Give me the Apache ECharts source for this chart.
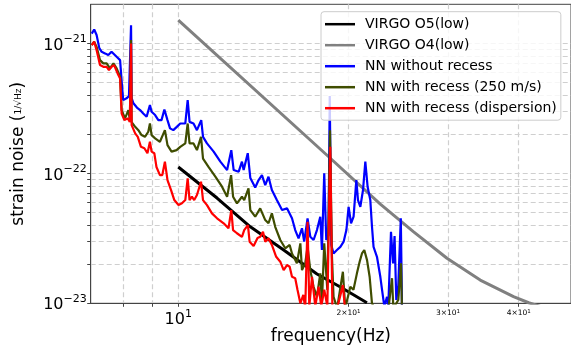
<!DOCTYPE html>
<html>
<head>
<meta charset="utf-8">
<script src="https://cdn.jsdelivr.net/npm/echarts@6/dist/echarts.min.js"></script>
<style>
html,body{margin:0;padding:0;background:#fff;}
#chart{width:571px;height:347px;}
</style>
</head>
<body>
<div id="chart"></div>
<script>
// ---- data (frequency in Hz, strain noise in 1/sqrt(Hz)) ----
var seriesNames = ['VIRGO O5(low)', 'VIRGO O4(low)', 'NN without recess', 'NN with recess (250 m/s)', 'NN with recess (dispersion)'];

var o5Freq = [10, 11.71, 13.41, 15.36, 17.59, 19.35, 21.56];
var o5Val  = [1.12e-22, 6.46e-23, 3.88e-23, 2.57e-23, 1.68e-23, 1.335e-23, 1.01e-23];

var o4Freq = [10, 18.45, 22.77, 26.08, 29.87, 34.2, 39.17, 41.66, 44.6];
var o4Val  = [1.51e-21, 1.342e-22, 5.80e-23, 3.55e-23, 2.22e-23, 1.51e-23, 1.124e-23, 1.01e-23, 0.92e-23];

var blueFreq = [7.03,7.10,7.17,7.25,7.32,7.42,7.52,7.62,7.68,7.78,7.89,7.95,7.99,8.10,8.18,8.23,8.25,8.27,8.33,8.45,8.56,8.67,8.79,8.91,8.97,9.10,9.22,9.34,9.45,9.57,9.67,9.80,9.94,10.08,10.29,10.39,10.47,10.64,10.79,10.98,11.06,11.24,11.55,11.87,12.20,12.41,12.53,12.79,12.96,13.05,13.27,13.41,13.68,13.87,14.06,14.25,14.44,14.64,14.94,15.26,15.57,15.89,16.10,16.32,16.55,16.70,16.93,17.12,17.35,17.59,17.83,17.95,18.12,18.27,18.44,18.53,18.65,18.82,19.08,19.35,19.61,19.83,20.01,20.21,20.42,20.65,20.79,20.99,21.22,21.42,21.62,21.86,22.01,22.15,22.46,22.77,22.93,23.14,23.40,23.52,23.78,23.98,24.13,24.30,24.50,24.75,24.87];
var blueVal  = [1.19e-21,1.28e-21,1.16e-21,9.20e-22,8.62e-22,8.38e-22,8.13e-22,8.62e-22,8.88e-22,7.89e-22,7.44e-22,4.78e-22,3.66e-22,3.78e-22,3.93e-22,3.86e-22,1.38e-21,3.80e-22,3.46e-22,3.21e-22,3.07e-22,2.89e-22,2.73e-22,3.35e-22,2.98e-22,2.81e-22,2.57e-22,2.57e-22,3.10e-22,2.57e-22,2.22e-22,2.15e-22,2.28e-22,2.42e-22,2.42e-22,3.66e-22,2.49e-22,2.42e-22,2.15e-22,2.57e-22,1.91e-22,1.70e-22,1.47e-22,1.23e-22,1.06e-22,1.51e-22,1.06e-22,1.03e-22,1.23e-22,1.06e-22,1.43e-22,9.20e-23,7.78e-23,8.88e-23,9.70e-23,8.13e-23,9.42e-23,7.44e-23,6.23e-23,5.22e-23,5.38e-23,4.51e-23,3.66e-23,3.16e-23,3.78e-23,2.98e-23,4.51e-23,3.25e-23,3.07e-23,3.66e-23,4.64e-23,2.57e-23,1.00e-22,3.07e-23,3.35e-23,3.93e-22,2.81e-23,2.42e-23,2.57e-23,2.72e-23,2.98e-23,3.66e-23,5.53e-23,4.13e-23,4.64e-23,8.88e-23,6.23e-23,5.53e-23,7.44e-23,1.23e-22,7.89e-23,6.23e-23,3.88e-23,2.72e-23,2.28e-23,1.60e-23,1.27e-23,0.95e-23,1.12e-23,0.95e-23,3.55e-23,2.03e-23,3.29e-23,1.06e-23,1.38e-23,4.51e-23,0.95e-23];

var oliveFreq = [7.03,7.10,7.17,7.27,7.37,7.47,7.57,7.68,7.78,7.89,7.94,8.05,8.16,8.21,8.25,8.27,8.39,8.50,8.61,8.73,8.85,8.91,8.97,9.10,9.28,9.47,9.57,9.73,9.93,10.08,10.29,10.39,10.47,10.64,10.79,10.97,11.06,11.31,11.63,11.95,12.20,12.40,12.50,12.70,12.96,13.08,13.31,13.41,13.68,13.96,14.25,14.44,14.64,14.84,15.15,15.46,15.74,15.89,16.21,16.44,16.55,16.77,16.93,17.12,17.35,17.59,17.83,17.95,18.12,18.35,18.55,18.70,18.82,19.10,19.55,19.74,20.15,20.41,20.70,20.93,21.13,21.33,21.57,21.80,22.01,22.31,23.52,23.88,24.01,24.50,24.77,24.87];
var oliveVal  = [9.70e-22,1.03e-21,9.41e-22,7.44e-22,7.02e-22,7.02e-22,6.42e-22,7.02e-22,6.42e-22,5.54e-22,3.07e-22,2.65e-22,3.07e-22,2.57e-22,1.06e-21,2.48e-22,2.28e-22,2.15e-22,1.97e-22,1.91e-22,2.09e-22,2.42e-22,1.97e-22,1.86e-22,1.75e-22,2.15e-22,1.65e-22,1.47e-22,1.51e-22,1.60e-22,1.70e-22,2.42e-22,1.70e-22,1.70e-22,1.51e-22,1.91e-22,1.30e-22,1.12e-22,9.42e-23,7.89e-23,6.61e-23,9.70e-23,6.61e-23,5.88e-23,6.61e-23,6.23e-23,7.67e-23,5.22e-23,4.64e-23,5.38e-23,4.37e-23,4.13e-23,4.92e-23,3.88e-23,3.07e-23,2.65e-23,2.81e-23,2.42e-23,2.03e-23,2.89e-23,1.80e-23,2.03e-23,2.73e-23,1.80e-23,1.34e-23,1.12e-23,1.70e-23,1.00e-23,2.89e-23,1.27e-23,2.15e-22,2.28e-23,1.12e-23,0.92e-23,1.75e-23,0.92e-23,1.34e-23,1.27e-23,1.70e-23,2.09e-23,2.42e-23,2.57e-23,2.15e-23,1.60e-23,1.00e-23,0.89e-23,0.89e-23,1.56e-23,0.92e-23,1.06e-23,2.03e-23,0.89e-23];

var redFreq = [7.03,7.10,7.17,7.27,7.37,7.47,7.54,7.62,7.70,7.81,7.89,7.94,8.03,8.14,8.21,8.25,8.27,8.39,8.48,8.59,8.71,8.82,8.91,8.97,9.07,9.15,9.28,9.37,9.47,9.57,9.71,9.84,10.01,10.15,10.29,10.39,10.47,10.57,10.67,10.79,10.97,11.06,11.24,11.47,11.71,12.03,12.27,12.41,12.50,12.70,12.96,13.08,13.28,13.37,13.59,13.81,13.96,14.12,14.25,14.44,14.64,14.90,15.15,15.36,15.57,15.74,15.89,16.10,16.25,16.44,16.64,16.77,16.93,17.05,17.24,17.47,17.71,17.90,18.12,18.35,18.57,18.73,19.03,19.55,19.74,22.77,24.87];
var redVal  = [9.70e-22,1.03e-21,8.88e-22,6.81e-22,6.61e-22,6.61e-22,6.23e-22,6.61e-22,6.81e-22,5.88e-22,5.38e-22,2.89e-22,2.57e-22,2.65e-22,2.49e-22,1.00e-21,2.35e-22,2.03e-22,1.91e-22,1.60e-22,1.56e-22,1.43e-22,1.75e-22,1.47e-22,1.43e-22,1.12e-22,9.70e-23,9.70e-23,1.23e-22,8.88e-23,7.44e-23,6.23e-23,5.70e-23,5.88e-23,6.23e-23,9.15e-23,6.23e-23,6.61e-23,6.23e-23,6.81e-23,8.62e-23,6.23e-23,5.70e-23,4.92e-23,4.51e-23,4.13e-23,3.78e-23,5.22e-23,3.66e-23,3.46e-23,3.25e-23,3.66e-23,4.00e-23,2.98e-23,2.76e-23,3.18e-23,3.25e-23,3.55e-23,2.98e-23,3.16e-23,2.81e-23,2.28e-23,2.09e-23,1.80e-23,1.97e-23,1.91e-23,1.60e-23,1.56e-23,1.27e-23,1.00e-23,1.16e-23,0.92e-23,4.24e-23,0.95e-23,1.60e-23,0.95e-23,1.34e-23,0.95e-23,1.27e-23,0.95e-23,1.60e-22,0.95e-23,0.86e-23,1.38e-23,0.86e-23,0.74e-23,0.74e-23];

// axis ticks
var xMin = 7, xMax = 49.5;
var yMin = 1e-23, yMax = 2e-21;
var xGridValues = [8, 9, 10, 20, 30, 40];
var xLabelValues = [10, 20, 30, 40];
var xLabelMantissa = ['', '2', '3', '4'];
var xLabelExp = ['1', '1', '1', '1'];
var yGridValues = [2e-23,3e-23,4e-23,5e-23,6e-23,7e-23,8e-23,9e-23,1e-22,2e-22,3e-22,4e-22,5e-22,6e-22,7e-22,8e-22,9e-22,1e-21];
var yLabelValues = [1e-23, 1e-22, 1e-21];
var yLabelExp = ['\u221223', '\u221222', '\u221221'];

// ECharts rounds numbers to at most 20 decimals, so the y axis works in units of 1e-22
var Y_UNIT = 1e-22;
function toUnit(v) { return Number((v / Y_UNIT).toPrecision(12)); }
function zip(a, b) { return a.map(function (v, i) { return [v, toUnit(b[i])]; }); }
function findIdx(arr, v) {
  for (var i = 0; i < arr.length; i++) { if (Math.abs(arr[i] - v) / arr[i] < 1e-3) return i; }
  return -1;
}
var yLabelUnits = yLabelValues.map(toUnit);

var FONT = 'DejaVu Sans';
var gridLine = { show: true, lineStyle: { color: '#cfcfcf', width: 1.2, type: [5, 3] } };

var chart = echarts.init(document.getElementById('chart'), null, { renderer: 'canvas' });
chart.setOption({
  animation: false,
  backgroundColor: '#ffffff',
  textStyle: { fontFamily: FONT },
  grid: { left: 90.7, right: 0, top: 4.3, bottom: 43.7, show: true, borderColor: '#444', borderWidth: 1, containLabel: false, outerBoundsMode: 'none' },
  legend: {
    data: seriesNames,
    orient: 'vertical',
    left: 321, top: 11.7,
    padding: [4.5, 4, 4, 4],
    icon: 'rect',
    itemWidth: 30, itemHeight: 2.5, itemGap: 5,
    backgroundColor: 'rgba(255,255,255,0.8)',
    borderColor: '#cccccc', borderWidth: 1, borderRadius: 3,
    textStyle: { fontFamily: FONT, fontSize: 14, color: '#000', lineHeight: 16, padding: [0, 0, 0, 5] }
  },
  xAxis: {
    type: 'log', logBase: 10, min: xMin, max: xMax,
    name: 'frequency(Hz)', nameLocation: 'middle', nameGap: 25, nameMoveOverlap: false,
    nameTextStyle: { fontFamily: FONT, fontSize: 17, color: '#000' },
    axisLine: { show: true, lineStyle: { color: '#444', width: 1 } },
    axisTick: { show: true, length: 3.5, lineStyle: { color: '#444' }, customValues: xGridValues },
    splitLine: gridLine,
    minorTick: { show: false }, minorSplitLine: { show: false },
    axisLabel: {
      customValues: xLabelValues, margin: 5,
      formatter: function (v) {
        var i = findIdx(xLabelValues, v);
        if (i < 0) return '';
        if (xLabelMantissa[i] === '') return '{b|10}{bs|' + xLabelExp[i] + '}';
        return '{s|' + xLabelMantissa[i] + '\u00d710}{ss|' + xLabelExp[i] + '}';
      },
      rich: {
        b: { fontFamily: FONT, fontSize: 16, color: '#000', lineHeight: 20, verticalAlign: 'bottom' },
        bs: { fontFamily: FONT, fontSize: 11, color: '#000', lineHeight: 12, verticalAlign: 'top' },
        s: { fontFamily: FONT, fontSize: 7.5, color: '#000', lineHeight: 9, verticalAlign: 'bottom' },
        ss: { fontFamily: FONT, fontSize: 5.5, color: '#000', lineHeight: 6, verticalAlign: 'top' }
      }
    }
  },
  yAxis: {
    type: 'log', logBase: 10, min: toUnit(yMin), max: toUnit(yMax),
    name: '{a|strain noise (}{f|1/\u221AHz}{a|)}', nameLocation: 'middle', nameGap: 64, nameRotate: 90,
    nameTextStyle: {
      rich: {
        a: { fontFamily: FONT, fontSize: 17, color: '#000' },
        f: { fontFamily: FONT, fontSize: 9, color: '#000' }
      }
    },
    axisLine: { show: true, lineStyle: { color: '#444', width: 1 } },
    axisTick: { show: true, length: 3.5, lineStyle: { color: '#444' }, customValues: yGridValues.concat([yMin]).map(toUnit) },
    splitLine: gridLine,
    minorTick: { show: false }, minorSplitLine: { show: false },
    axisLabel: {
      customValues: yLabelUnits, margin: 4,
      formatter: function (v) {
        var i = findIdx(yLabelUnits, v);
        if (i < 0) return '';
        return '{b|10}{s|' + yLabelExp[i] + '}';
      },
      rich: {
        b: { fontFamily: FONT, fontSize: 16, color: '#000', lineHeight: 20, verticalAlign: 'bottom' },
        s: { fontFamily: FONT, fontSize: 11, color: '#000', lineHeight: 12, verticalAlign: 'top' }
      }
    }
  },
  series: [
    { name: seriesNames[0], type: 'line', data: zip(o5Freq, o5Val), symbol: 'none', clip: true, lineStyle: { color: '#000000', width: 3 }, itemStyle: { color: '#000000' }, z: 2 },
    { name: seriesNames[1], type: 'line', data: zip(o4Freq, o4Val), symbol: 'none', clip: true, lineStyle: { color: '#808080', width: 3 }, itemStyle: { color: '#808080' }, z: 2 },
    { name: seriesNames[2], type: 'line', data: zip(blueFreq, blueVal), symbol: 'none', clip: true, lineStyle: { color: '#0000ff', width: 2.2 }, itemStyle: { color: '#0000ff' }, z: 3 },
    { name: seriesNames[3], type: 'line', data: zip(oliveFreq, oliveVal), symbol: 'none', clip: true, lineStyle: { color: '#3f4d00', width: 2.2 }, itemStyle: { color: '#3f4d00' }, z: 3 },
    { name: seriesNames[4], type: 'line', data: zip(redFreq, redVal), symbol: 'none', clip: true, lineStyle: { color: '#ff0000', width: 2.2 }, itemStyle: { color: '#ff0000' }, z: 3 }
  ]
});
</script>
</body>
</html>
